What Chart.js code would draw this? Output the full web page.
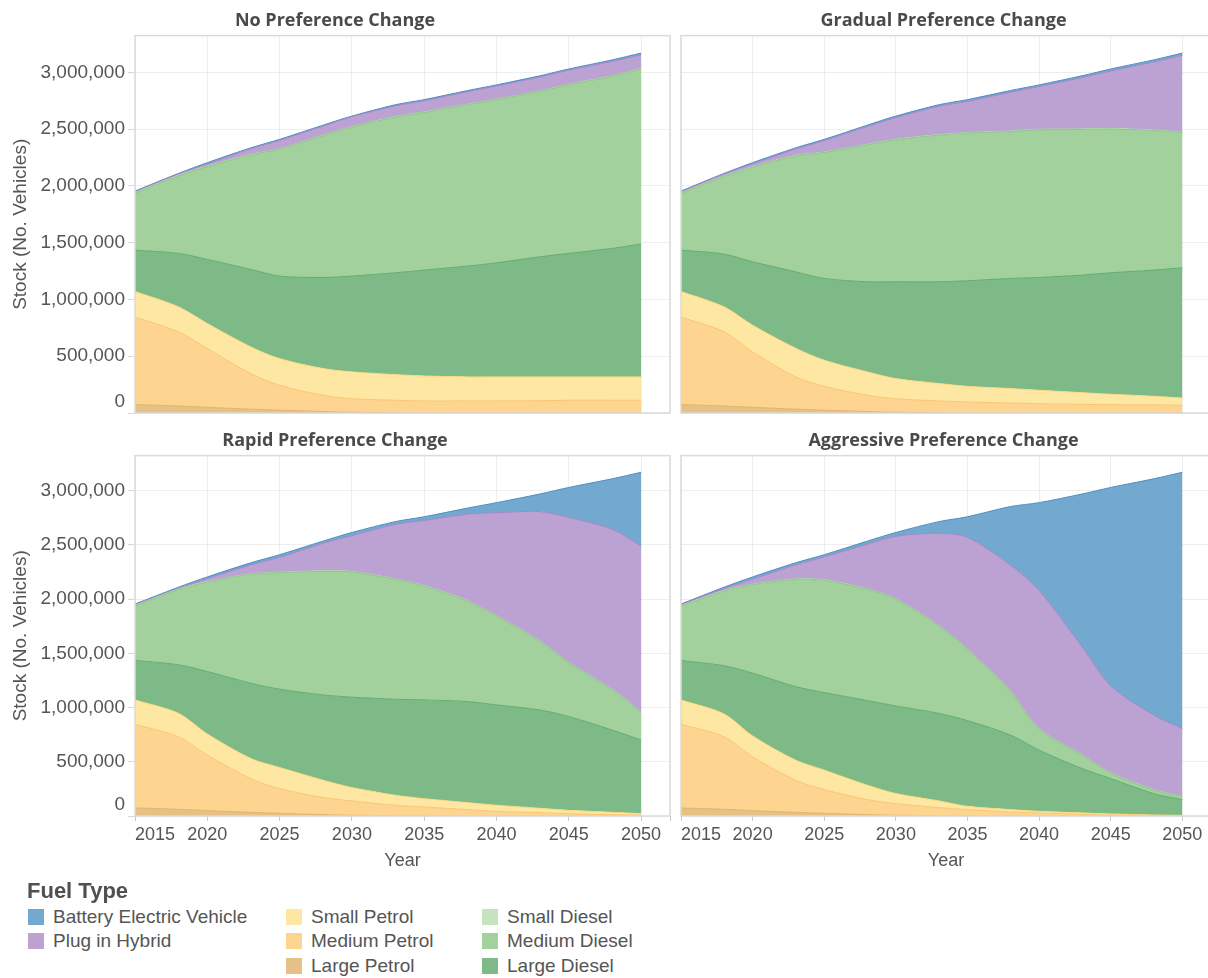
<!DOCTYPE html>
<html>
<head>
<meta charset="utf-8">
<title>Vehicle Stock by Fuel Type</title>
<script src="https://cdn.jsdelivr.net/npm/chart.js@4.4.0/dist/chart.umd.min.js"></script>
<style>
  html, body {
    margin: 0;
    padding: 0;
    background: #ffffff;
    width: 1208px;
    height: 978px;
    overflow: hidden;
  }
  canvas {
    position: absolute;
  }
  #legend {
    position: absolute;
    left: 0;
    top: 0;
    font-family: "Liberation Sans", Arial, sans-serif;
    color: #555555;
  }
  .legend-title {
    position: absolute;
    left: 27px;
    top: 878px;
    font-size: 22px;
    font-weight: bold;
    color: #505050;
    white-space: nowrap;
  }
  .legend-item {
    position: absolute;
    font-size: 19px;
    line-height: 20px;
    white-space: nowrap;
  }
  .legend-swatch {
    position: absolute;
    left: 0;
    top: 2px;
    width: 16px;
    height: 16px;
  }
  .legend-text {
    position: absolute;
    left: 25px;
    top: 0;
  }
</style>
</head>
<body>
<canvas id="chartNo" width="675" height="420" style="left:0px;top:0px"></canvas>
<canvas id="chartGradual" width="535" height="420" style="left:676px;top:0px"></canvas>
<canvas id="chartRapid" width="675" height="460" style="left:0px;top:420px"></canvas>
<canvas id="chartAggressive" width="535" height="460" style="left:676px;top:420px"></canvas>
<div id="legend"></div>

<script>
"use strict";

/* ****************************************************************************
    DATA
**************************************************************************** */
// years of each reading
var years = [2015, 2018, 2020, 2023, 2025, 2028, 2030, 2033, 2035, 2038, 2040, 2043, 2045, 2048, 2050];

// fuel types in stacking order, bottom first
var fuelTypes = [
  "Large Petrol",
  "Medium Petrol",
  "Small Petrol",
  "Large Diesel",
  "Medium Diesel",
  "Small Diesel",
  "Plug in Hybrid",
  "Battery Electric Vehicle",
];

// stock per fuel type (rows in fuelTypes order), one value per year
var noPreferenceStock = [
  [75000, 62000, 50000, 34000, 25000, 13000, 7000, 3000, 1000, 0, 0, 0, 0, 0, 0],
  [770000, 653000, 518000, 313000, 219000, 143000, 119000, 109000, 105000, 106000, 106000, 108000, 112000, 112000, 112000],
  [225000, 220000, 220000, 235000, 235000, 235000, 236000, 226000, 220000, 212000, 212000, 210000, 206000, 206000, 206000],
  [365000, 471000, 565000, 683000, 727000, 803000, 844000, 897000, 933000, 976000, 1005000, 1058000, 1088000, 1132000, 1170000],
  [500000, 682000, 817000, 1008000, 1117000, 1247000, 1311000, 1371000, 1388000, 1421000, 1436000, 1456000, 1485000, 1515000, 1541000],
  [5000, 5000, 5000, 5000, 5000, 5000, 5000, 5000, 5000, 5000, 5000, 5000, 5000, 5000, 5000],
  [10000, 13000, 19000, 50000, 74000, 81000, 88000, 94000, 98000, 110000, 116000, 123000, 124000, 127000, 121000],
  [5000, 4000, 11000, 7000, 8000, 8000, 5000, 10000, 10000, 10000, 10000, 10000, 10000, 13000, 15000],
];

var gradualStock = [
  [75000, 62000, 50000, 34000, 25000, 13000, 7000, 3000, 1000, 0, 0, 0, 0, 0, 0],
  [770000, 653000, 488000, 284000, 210000, 143000, 119000, 103000, 96000, 88000, 82000, 76000, 74000, 71000, 68000],
  [225000, 220000, 235000, 252000, 230000, 206000, 177000, 153000, 138000, 127000, 118000, 103000, 91000, 76000, 64000],
  [365000, 465000, 559000, 674000, 720000, 794000, 853000, 897000, 930000, 970000, 994000, 1036000, 1070000, 1112000, 1147000],
  [500000, 682000, 833000, 1021000, 1109000, 1206000, 1250000, 1291000, 1300000, 1294000, 1300000, 1282000, 1265000, 1229000, 1191000],
  [5000, 5000, 5000, 5000, 5000, 5000, 5000, 5000, 5000, 5000, 5000, 5000, 5000, 5000, 5000],
  [10000, 19000, 25000, 55000, 101000, 156000, 191000, 250000, 275000, 341000, 376000, 453000, 507000, 599000, 675000],
  [5000, 4000, 10000, 10000, 10000, 12000, 13000, 13000, 15000, 15000, 15000, 15000, 18000, 18000, 20000],
];

var rapidStock = [
  [75000, 62000, 50000, 34000, 25000, 13000, 7000, 3000, 1000, 0, 0, 0, 0, 0, 0],
  [770000, 669000, 512000, 311000, 228000, 157000, 132000, 96000, 82000, 59000, 43000, 31000, 22000, 12000, 9000],
  [225000, 216000, 194000, 186000, 194000, 160000, 123000, 92000, 77000, 64000, 56000, 40000, 30000, 22000, 13000],
  [365000, 448000, 577000, 694000, 723000, 787000, 834000, 886000, 911000, 932000, 926000, 907000, 865000, 759000, 678000],
  [500000, 694000, 824000, 1003000, 1073000, 1139000, 1154000, 1105000, 1049000, 926000, 817000, 633000, 493000, 370000, 254000],
  [5000, 5000, 5000, 5000, 5000, 5000, 5000, 5000, 5000, 5000, 5000, 5000, 5000, 5000, 5000],
  [10000, 6000, 28000, 82000, 137000, 254000, 330000, 503000, 600000, 798000, 950000, 1192000, 1338000, 1477000, 1531000],
  [5000, 10000, 15000, 20000, 25000, 20000, 30000, 25000, 35000, 56000, 93000, 162000, 277000, 465000, 680000],
];

var aggressiveStock = [
  [75000, 62000, 50000, 34000, 25000, 13000, 7000, 3000, 1000, 0, 0, 0, 0, 0, 0],
  [770000, 669000, 496000, 296000, 219000, 138000, 107000, 74000, 58000, 37000, 28000, 15000, 9000, 6000, 3000],
  [225000, 210000, 192000, 185000, 179000, 133000, 93000, 62000, 30000, 22000, 15000, 13000, 10000, 3000, 3000],
  [365000, 445000, 580000, 679000, 716000, 781000, 808000, 808000, 791000, 688000, 565000, 410000, 327000, 198000, 145000],
  [500000, 688000, 815000, 988000, 1034000, 1024000, 982000, 803000, 654000, 400000, 192000, 122000, 46000, 31000, 25000],
  [5000, 5000, 5000, 5000, 5000, 5000, 5000, 5000, 5000, 5000, 5000, 5000, 5000, 5000, 5000],
  [10000, 19000, 47000, 128000, 212000, 412000, 578000, 853000, 1030000, 1162000, 1275000, 995000, 803000, 687000, 627000],
  [5000, 12000, 20000, 20000, 20000, 29000, 35000, 107000, 191000, 540000, 810000, 1410000, 1830000, 2180000, 2362000],
];

// axis ticks
var xTicks = [2015, 2020, 2025, 2030, 2035, 2040, 2045, 2050];
var yTicks = [0, 500000, 1000000, 1500000, 2000000, 2500000, 3000000];

// legend columns
var legendColumns = [
  ["Battery Electric Vehicle", "Plug in Hybrid"],
  ["Small Petrol", "Medium Petrol", "Large Petrol"],
  ["Small Diesel", "Medium Diesel", "Large Diesel"],
];

/* ****************************************************************************
    STYLE
**************************************************************************** */
var fillColors = {
  "Large Petrol": "#e5c185",
  "Medium Petrol": "#fdd591",
  "Small Petrol": "#fee6a3",
  "Large Diesel": "#7eba88",
  "Medium Diesel": "#a3d19d",
  "Small Diesel": "#c6e3c0",
  "Plug in Hybrid": "#bca1d3",
  "Battery Electric Vehicle": "#73a9cf",
};

var lineColors = {
  "Large Petrol": "#e3b36a",
  "Medium Petrol": "#f9c670",
  "Small Petrol": "#fdd97e",
  "Large Diesel": "#62ae6e",
  "Medium Diesel": "#8cc786",
  "Small Diesel": "#b0d9a9",
  "Plug in Hybrid": "#a286c6",
  "Battery Electric Vehicle": "#4d8fc4",
};

var textColor = "#555555";
var gridColor = "rgba(0,0,0,0.065)";

Chart.defaults.font.family = '"Liberation Sans", Arial, sans-serif';
Chart.defaults.color = textColor;

/* ****************************************************************************
    CHART BUILDING
**************************************************************************** */

/**
 * Plugin that draws a light frame round the plot area.
 */
var plotFrame = {
  id: "plotFrame",
  afterDraw: function (chart) {
    let area = chart.chartArea;
    let ctx = chart.ctx;
    ctx.save();
    ctx.strokeStyle = "rgb(218,218,218)";
    ctx.lineWidth = 1.5;
    ctx.strokeRect(area.left, area.top, area.right - area.left, area.bottom - area.top);
    ctx.restore();
  },
};

/**
 * Build the stacked area datasets for one scenario.
 *
 * @param {Array} stock - rows of stock values, one per fuel type
 * @returns {Array} - Chart.js datasets
 */
function buildDatasets(stock) {
  let datasets = [];
  for (let i = 0; i < fuelTypes.length; i++) {
    let name = fuelTypes[i];
    datasets.push({
      label: name,
      data: years.map(function (year, j) {
        return { x: year, y: stock[i][j] };
      }),
      backgroundColor: fillColors[name],
      borderColor: lineColors[name],
      borderWidth: 1,
      pointRadius: 0,
      tension: 0.3,
      fill: i === 0 ? "origin" : "-1",
    });
  }
  return datasets;
}

/**
 * Draw one scenario panel.
 *
 * @param {string} canvasId - id of the canvas
 * @param {string} title - scenario title
 * @param {Array} stock - rows of stock values
 * @param {boolean} isLeft - panel in the left column (shows y axis)
 * @param {boolean} isBottom - panel in the bottom row (shows x axis)
 */
function drawPanel(canvasId, title, stock, isLeft, isBottom) {
  let canvas = document.getElementById(canvasId);
  new Chart(canvas, {
    type: "line",
    data: { datasets: buildDatasets(stock) },
    plugins: [plotFrame],
    options: {
      responsive: false,
      animation: false,
      layout: { padding: { top: 0, right: isLeft ? 5 : 0, bottom: 0, left: 0 } },
      plugins: {
        legend: { display: false },
        tooltip: { enabled: false },
        title: {
          display: true,
          text: title,
          color: "#4a4a4a",
          font: { family: '"Open Sans", sans-serif', size: 18, weight: "bold" },
          padding: { top: 10, bottom: 4 },
        },
      },
      scales: {
        x: {
          type: "linear",
          min: 2015,
          max: 2052,
          z: 1,
          afterBuildTicks: function (scale) {
            scale.ticks = xTicks.concat([2052]).map(function (v) {
              return { value: v };
            });
          },
          afterFit: function (scale) {
            scale.height = isBottom ? 64 : 7;
            scale.paddingLeft = 0;
            scale.paddingRight = 0;
          },
          grid: {
            color: gridColor,
            drawTicks: isBottom,
            tickLength: 5,
            tickColor: "rgb(200,200,200)",
          },
          border: { display: false },
          ticks: {
            display: isBottom,
            align: "inner",
            autoSkip: false,
            maxRotation: 0,
            padding: 3,
            color: textColor,
            font: { size: 18 },
            callback: function (value) {
              return value === 2052 ? "" : String(value);
            },
          },
          title: {
            display: isBottom,
            text: "Year",
            color: textColor,
            font: { size: 18 },
            padding: { top: 0, bottom: 8 },
          },
        },
        y: {
          type: "linear",
          stacked: true,
          min: 0,
          max: 3324000,
          z: 1,
          afterBuildTicks: function (scale) {
            scale.ticks = yTicks.map(function (v) {
              return { value: v };
            });
          },
          afterFit: function (scale) {
            scale.width = isLeft ? 135 : 5;
            scale.paddingTop = 0;
            scale.paddingBottom = 0;
          },
          grid: {
            color: gridColor,
            drawTicks: isLeft,
            tickLength: 7,
            tickColor: "rgb(215,215,215)",
          },
          border: { display: false },
          ticks: {
            display: isLeft,
            padding: 3,
            color: textColor,
            font: { size: 19, lineHeight: 1.2 },
            callback: function (value) {
              // lift the zero label above the bottom edge
              return value === 0 ? ["0", ""] : value.toLocaleString("en-US");
            },
          },
          title: {
            display: isLeft,
            text: "Stock (No. Vehicles)",
            color: textColor,
            font: { size: 19 },
            padding: { top: 9, bottom: 0 },
          },
        },
      },
    },
  });
}

/**
 * Build the fuel type legend under the panels.
 */
function drawLegend() {
  let legend = document.getElementById("legend");
  let title = document.createElement("div");
  title.className = "legend-title";
  title.textContent = "Fuel Type";
  legend.appendChild(title);

  let columnX = [28, 286, 482];
  let rowY = [907, 931, 956];
  for (let c = 0; c < legendColumns.length; c++) {
    for (let r = 0; r < legendColumns[c].length; r++) {
      let name = legendColumns[c][r];
      let item = document.createElement("div");
      item.className = "legend-item";
      item.style.left = columnX[c] + "px";
      item.style.top = rowY[r] + "px";
      let swatch = document.createElement("div");
      swatch.className = "legend-swatch";
      swatch.style.background = fillColors[name];
      let text = document.createElement("div");
      text.className = "legend-text";
      text.textContent = name;
      item.appendChild(swatch);
      item.appendChild(text);
      legend.appendChild(item);
    }
  }
}

/* ****************************************************************************
    START
**************************************************************************** */
drawPanel("chartNo", "No Preference Change", noPreferenceStock, true, false);
drawPanel("chartGradual", "Gradual Preference Change", gradualStock, false, false);
drawPanel("chartRapid", "Rapid Preference Change", rapidStock, true, true);
drawPanel("chartAggressive", "Aggressive Preference Change", aggressiveStock, false, true);
drawLegend();
</script>
</body>
</html>
